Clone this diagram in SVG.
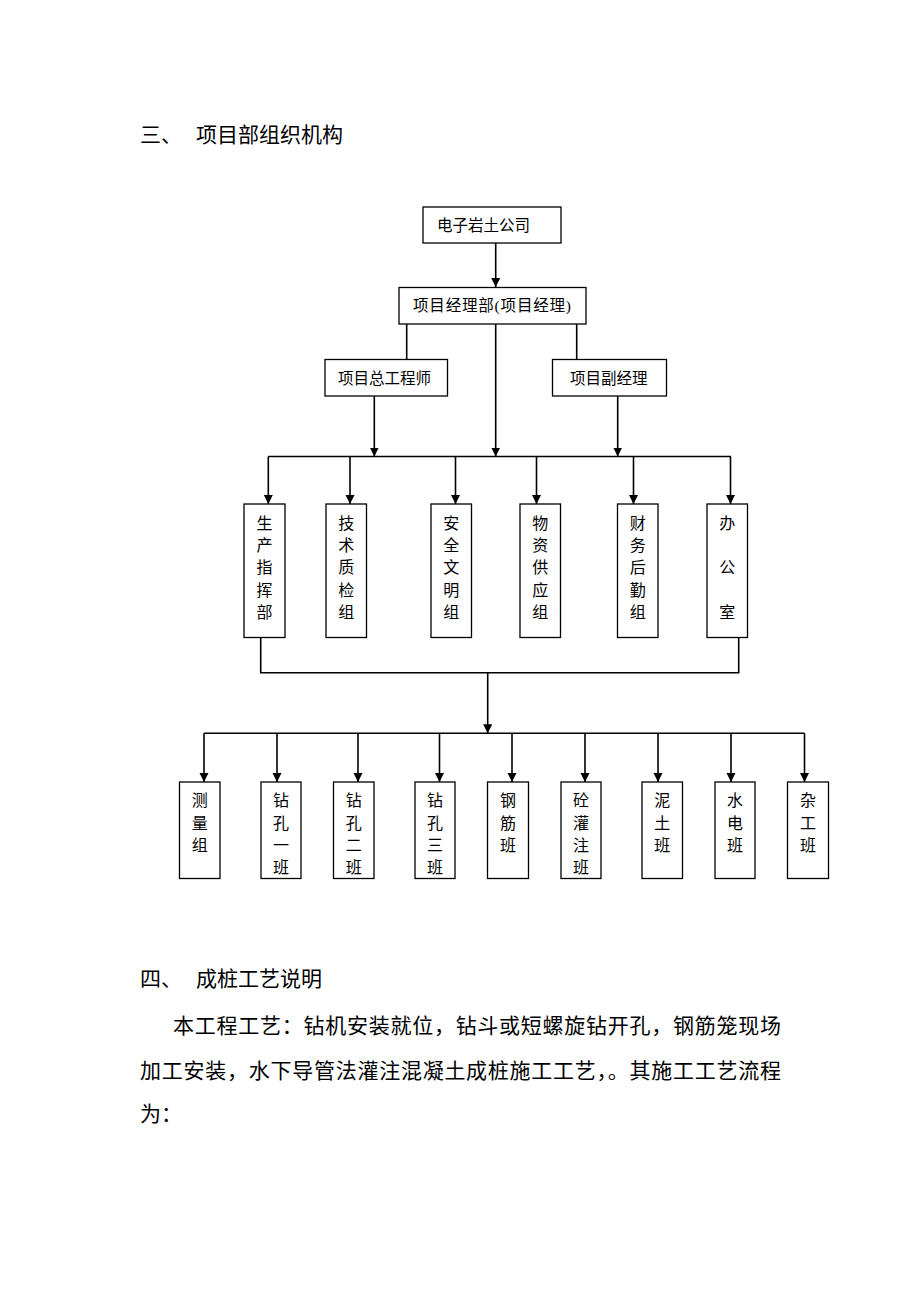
<svg xmlns="http://www.w3.org/2000/svg" width="920" height="1302" viewBox="0 0 920 1302">
<style>
.bx{fill:#fff;stroke:#000;stroke-width:1.3}
.ln{fill:none;stroke:#000;stroke-width:1.6}
.t{font-family:"Liberation Serif","Noto Sans CJK SC",serif;font-size:15.5px;fill:#000}
.v{font-family:"Liberation Serif","Noto Sans CJK SC",serif;font-size:16px;fill:#000;text-anchor:middle;dominant-baseline:central}
.h{font-family:"Liberation Serif","Noto Sans CJK SC",serif;font-size:21px;fill:#000}
</style>
<defs>
<marker id="ar" markerUnits="userSpaceOnUse" markerWidth="10" markerHeight="10" refX="9" refY="4.5" orient="auto">
<path d="M0,0 L9,4.5 L0,9 z" fill="#000"/>
</marker>
</defs>
<rect width="920" height="1302" fill="#fff"/>
<g id="headings">
<text class="h" x="140" y="142">三、</text>
<text class="h" x="196" y="142" textLength="147" lengthAdjust="spacing">项目部组织机构</text>
<text class="h" x="140" y="986">四、</text>
<text class="h" x="196" y="986" textLength="126" lengthAdjust="spacing">成桩工艺说明</text>
<text class="h" x="173" y="1033" textLength="608" lengthAdjust="spacing">本工程工艺：钻机安装就位，钻斗或短螺旋钻开孔，钢筋笼现场</text>
<text class="h" x="140" y="1078" textLength="641" lengthAdjust="spacing">加工安装，水下导管法灌注混凝土成桩施工工艺，。其施工工艺流程</text>
<text class="h" x="140" y="1121">为：</text>
</g>
<g id="connectors">
<line class="ln" x1="495.7" y1="243" x2="495.7" y2="287" marker-end="url(#ar)"/>
<line class="ln" x1="406.7" y1="324" x2="406.7" y2="359"/>
<line class="ln" x1="576.7" y1="324" x2="576.7" y2="359"/>
<line class="ln" x1="495.7" y1="324" x2="495.7" y2="456.5" marker-end="url(#ar)"/>
<line class="ln" x1="374.3" y1="396" x2="374.3" y2="456.5" marker-end="url(#ar)"/>
<line class="ln" x1="617.7" y1="396" x2="617.7" y2="456.5" marker-end="url(#ar)"/>
<line class="ln" x1="268.3" y1="456.5" x2="731" y2="456.5"/>
<line class="ln" x1="268.3" y1="456.5" x2="268.3" y2="504" marker-end="url(#ar)"/>
<line class="ln" x1="350" y1="456.5" x2="350" y2="504" marker-end="url(#ar)"/>
<line class="ln" x1="455.5" y1="456.5" x2="455.5" y2="504" marker-end="url(#ar)"/>
<line class="ln" x1="536.5" y1="456.5" x2="536.5" y2="504" marker-end="url(#ar)"/>
<line class="ln" x1="633.5" y1="456.5" x2="633.5" y2="504" marker-end="url(#ar)"/>
<line class="ln" x1="730.5" y1="456.5" x2="730.5" y2="504" marker-end="url(#ar)"/>
<polyline class="ln" points="260.7,637.5 260.7,672.7 738.7,672.7 738.7,637.5"/>
<line class="ln" x1="487.7" y1="672.7" x2="487.7" y2="733.3" marker-end="url(#ar)"/>
<line class="ln" x1="204" y1="733.3" x2="804.5" y2="733.3"/>
<line class="ln" x1="204" y1="733.3" x2="204" y2="782" marker-end="url(#ar)"/>
<line class="ln" x1="277" y1="733.3" x2="277" y2="782" marker-end="url(#ar)"/>
<line class="ln" x1="358" y1="733.3" x2="358" y2="782" marker-end="url(#ar)"/>
<line class="ln" x1="439.5" y1="733.3" x2="439.5" y2="782" marker-end="url(#ar)"/>
<line class="ln" x1="512" y1="733.3" x2="512" y2="782" marker-end="url(#ar)"/>
<line class="ln" x1="585" y1="733.3" x2="585" y2="782" marker-end="url(#ar)"/>
<line class="ln" x1="658" y1="733.3" x2="658" y2="782" marker-end="url(#ar)"/>
<line class="ln" x1="731" y1="733.3" x2="731" y2="782" marker-end="url(#ar)"/>
<line class="ln" x1="804.5" y1="733.3" x2="804.5" y2="782" marker-end="url(#ar)"/>
</g>
<g id="n-company"><rect class="bx" x="423" y="207" width="138" height="36"/><text class="t" x="437" y="231">电子岩土公司</text></g>
<g id="n-pm"><rect class="bx" x="399" y="287.5" width="187" height="36.5"/><text class="t" x="413" y="311" textLength="158" lengthAdjust="spacing">项目经理部(项目经理)</text></g>
<g id="n-chief"><rect class="bx" x="325" y="359.5" width="122.5" height="36.5"/><text class="t" x="338" y="384">项目总工程师</text></g>
<g id="n-deputy"><rect class="bx" x="552.5" y="359.5" width="114" height="36.5"/><text class="t" x="570" y="384">项目副经理</text></g>
<g id="n-m1"><rect class="bx" x="244" y="504" width="41" height="133.5"/><text class="v" x="264.5"><tspan x="264.5" y="522.7">生</tspan><tspan x="264.5" y="545">产</tspan><tspan x="264.5" y="567.4">指</tspan><tspan x="264.5" y="589.8">挥</tspan><tspan x="264.5" y="612.2">部</tspan></text></g>
<g id="n-m2"><rect class="bx" x="326" y="504" width="40.5" height="133.5"/><text class="v"><tspan x="346.2" y="522.7">技</tspan><tspan x="346.2" y="545">术</tspan><tspan x="346.2" y="567.4">质</tspan><tspan x="346.2" y="589.8">检</tspan><tspan x="346.2" y="612.2">组</tspan></text></g>
<g id="n-m3"><rect class="bx" x="431" y="504" width="40.5" height="133.5"/><text class="v"><tspan x="451.2" y="522.7">安</tspan><tspan x="451.2" y="545">全</tspan><tspan x="451.2" y="567.4">文</tspan><tspan x="451.2" y="589.8">明</tspan><tspan x="451.2" y="612.2">组</tspan></text></g>
<g id="n-m4"><rect class="bx" x="520" y="504" width="40.5" height="133.5"/><text class="v"><tspan x="540.2" y="522.7">物</tspan><tspan x="540.2" y="545">资</tspan><tspan x="540.2" y="567.4">供</tspan><tspan x="540.2" y="589.8">应</tspan><tspan x="540.2" y="612.2">组</tspan></text></g>
<g id="n-m5"><rect class="bx" x="617.5" y="504" width="40.5" height="133.5"/><text class="v"><tspan x="637.7" y="522.7">财</tspan><tspan x="637.7" y="545">务</tspan><tspan x="637.7" y="567.4">后</tspan><tspan x="637.7" y="589.8">勤</tspan><tspan x="637.7" y="612.2">组</tspan></text></g>
<g id="n-m6"><rect class="bx" x="707" y="504" width="40.5" height="133.5"/><text class="v"><tspan x="727.2" y="522.7">办</tspan><tspan x="727.2" y="567.4">公</tspan><tspan x="727.2" y="612.2">室</tspan></text></g>
<g id="n-b1"><rect class="bx" x="179.5" y="782" width="40.5" height="96.5"/><text class="v"><tspan x="199.7" y="800">测</tspan><tspan x="199.7" y="822.5">量</tspan><tspan x="199.7" y="845">组</tspan></text></g>
<g id="n-b2"><rect class="bx" x="261" y="782" width="40" height="96.5"/><text class="v"><tspan x="281" y="800">钻</tspan><tspan x="281" y="822.5">孔</tspan><tspan x="281" y="845">一</tspan><tspan x="281" y="867">班</tspan></text></g>
<g id="n-b3"><rect class="bx" x="333.5" y="782" width="40.5" height="96.5"/><text class="v"><tspan x="353.7" y="800">钻</tspan><tspan x="353.7" y="822.5">孔</tspan><tspan x="353.7" y="845">二</tspan><tspan x="353.7" y="867">班</tspan></text></g>
<g id="n-b4"><rect class="bx" x="415" y="782" width="40" height="96.5"/><text class="v"><tspan x="435" y="800">钻</tspan><tspan x="435" y="822.5">孔</tspan><tspan x="435" y="845">三</tspan><tspan x="435" y="867">班</tspan></text></g>
<g id="n-b5"><rect class="bx" x="487.5" y="782" width="41" height="96.5"/><text class="v"><tspan x="508" y="800">钢</tspan><tspan x="508" y="822.5">筋</tspan><tspan x="508" y="845">班</tspan></text></g>
<g id="n-b6"><rect class="bx" x="561" y="782" width="40" height="96.5"/><text class="v"><tspan x="581" y="800">砼</tspan><tspan x="581" y="822.5">灌</tspan><tspan x="581" y="845">注</tspan><tspan x="581" y="867">班</tspan></text></g>
<g id="n-b7"><rect class="bx" x="642" y="782" width="40.5" height="96.5"/><text class="v"><tspan x="662.2" y="800">泥</tspan><tspan x="662.2" y="822.5">土</tspan><tspan x="662.2" y="845">班</tspan></text></g>
<g id="n-b8"><rect class="bx" x="715" y="782" width="40" height="96.5"/><text class="v"><tspan x="735" y="800">水</tspan><tspan x="735" y="822.5">电</tspan><tspan x="735" y="845">班</tspan></text></g>
<g id="n-b9"><rect class="bx" x="787.5" y="782" width="41" height="96.5"/><text class="v"><tspan x="808" y="800">杂</tspan><tspan x="808" y="822.5">工</tspan><tspan x="808" y="845">班</tspan></text></g>
</svg>
